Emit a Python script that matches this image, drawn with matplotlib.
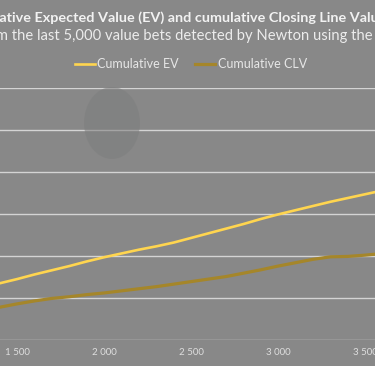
import matplotlib
matplotlib.use("Agg")
import matplotlib.pyplot as plt
from matplotlib.patches import Ellipse

# data (bets detected, cumulative value in units)
bets = [1400, 1500, 1600, 1700, 1800, 1900, 2000, 2100, 2200, 2300, 2400, 2500,
        2600, 2700, 2800, 2900, 3000, 3100, 3200, 3300, 3400, 3500, 3600]
cum_ev = [135, 145, 156, 166, 176, 187, 197, 206, 215, 223, 232, 243,
          254, 265, 276, 288, 299, 309, 319, 329, 338, 347, 356]
cum_clv = [78, 86, 93, 99, 103, 108, 112, 117, 122, 127, 133, 139,
           145, 151, 159, 167, 176, 184, 192, 198, 199, 202, 206]
x_ticks = [1500, 2000, 2500, 3000, 3500]
x_labels = ["1 500", "2 000", "2 500", "3 000", "3 500"]

title = "Cumulative Expected Value (EV) and cumulative Closing Line Value (CLV)"
subtitle = "Results from the last 5,000 value bets detected by Newton using the default settings"

W, H = 375, 366
plt.rcParams['font.family'] = ['Lato', 'DejaVu Sans']
bg = '#888888'
fig = plt.figure(figsize=(W / 100, H / 100), dpi=100, facecolor=bg)

# faint photo in the background
fig.patches.append(Ellipse((112 / W, 1 - 123 / H), 56 / W, 72 / H, transform=fig.transFigure,
                           facecolor='#7d7e7e', edgecolor='none', alpha=0.55, zorder=0))

ax = fig.add_axes([0, 26 / H, 1, 252 / H])
ax.set_facecolor('none')
ax.plot(bets, cum_ev, color='#ffd54f', lw=1.9, label='Cumulative EV', zorder=3)
ax.plot(bets, cum_clv, color='#a5862a', lw=2.3, label='Cumulative CLV', zorder=3)
ax.set_xlim(1402, 3557)
ax.set_ylim(0, 600)
ax.set_yticks(range(0, 601, 100))
ax.set_yticklabels([])
ax.set_xticks(x_ticks)
ax.set_xticklabels(x_labels, color='#dedede', fontsize=7)
ax.tick_params(length=0, pad=6)
ax.grid(axis='y', color='#d4d4d4', lw=1)
for s in ax.spines.values():
    s.set_visible(False)

renderer = fig.canvas.get_renderer()

def cut_text(full, prefix, y, x0, **kw):
    # place text so the part after `prefix` starts at pixel x0
    t = fig.text(0, y, prefix, **kw)
    w = t.get_window_extent(renderer).width
    t.remove()
    fig.text((x0 - w) / W, y, full, ha='left', va='center', **kw)

cut_text(title, "Cumul", 1 - 18 / H, -1, fontsize=10.35, fontweight='bold', color='#f2f2f2')
cut_text(subtitle, "Results fro", 1 - 36 / H, -4, fontsize=10.6, color='#ececec')

leg = fig.legend(loc='center', bbox_to_anchor=(191 / W, 1 - 64 / H), ncol=2, frameon=False,
                 fontsize=9, handlelength=1.6, handletextpad=0.2, columnspacing=1.3)
for t in leg.get_texts():
    t.set_color('#e6e6e6')

fig.savefig('out.png', dpi=100, facecolor=bg)
